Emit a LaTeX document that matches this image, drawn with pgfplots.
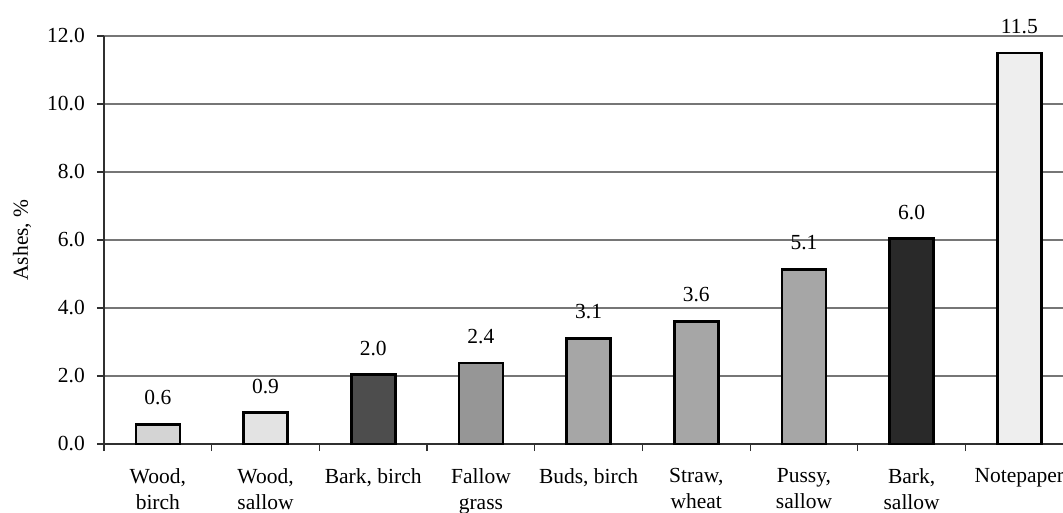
\documentclass[border=0pt]{standalone}
\usepackage{pgfplots}
\pgfplotsset{compat=1.18}
\usepackage{fontspec}
\setmainfont{Liberation Serif}
\definecolor{gridgray}{HTML}{767676}
\definecolor{axgray}{HTML}{303030}
\begin{document}
\fontsize{21bp}{26.5bp}\selectfont
\begin{tikzpicture}
\begin{axis}[
  scale only axis,
  width=959.5bp, height=408bp,
  at={(0,0)}, anchor=south west,
  xmin=-0.5, xmax=8.41,
  ymin=0, ymax=12,
  axis x line*=bottom, axis y line*=left,
  axis line style={axgray, line width=1.4bp, -},
  ytick={0,2,...,12},
  yticklabel style={/pgf/number format/fixed,/pgf/number format/fixed zerofill,/pgf/number format/precision=1},
  /pgf/number format/assume math mode=true,
  ymajorgrids, grid style={gridgray, line width=1.2bp},
  tick align=outside,
  major tick length=7bp,
  y tick style={draw=axgray, line width=1.2bp},
  xtick={0,...,8},
  xticklabels={{Wood,\\birch},{Wood,\\sallow},{Bark, birch},{Fallow\\grass},{Buds, birch},{Straw,\\wheat},{Pussy,\\sallow},{Bark,\\sallow},{Notepaper}},
  xticklabel style={align=center, anchor=north, yshift=-10bp, font=\fontsize{21.5bp}{26bp}\selectfont},
  x tick style={draw=none},
  minor xtick={-0.5,0.5,...,7.5},
  minor x tick style={draw=axgray, line width=1.2bp},
  minor tick length=7bp,
  yticklabel style={font=\fontsize{21.5bp}{26.5bp}\selectfont, xshift=-5bp},
  ylabel={Ashes, \%},
  ylabel style={font=\fontsize{21.5bp}{26.5bp}\selectfont, at={(axis description cs:0,0.5)}, anchor=base, inner sep=0pt, yshift=76bp},
  ybar, bar width=44bp, bar shift=0pt,
  every axis plot/.append style={draw=black, line width=2.6bp},
  nodes near coords,
  nodes near coords style={font=\fontsize{21.5bp}{26.5bp}\selectfont, /pgf/number format/fixed,/pgf/number format/fixed zerofill,/pgf/number format/precision=1, anchor=south, inner sep=0pt, yshift=18bp, /pgf/number format/assume math mode=true},
  clip=false,
]
\addplot[fill={rgb,255:red,212;green,212;blue,212}] coordinates {(0,0.58)};
\addplot[fill={rgb,255:red,227;green,227;blue,227}] coordinates {(1,0.92)};
\addplot[fill={rgb,255:red,77;green,77;blue,77}] coordinates {(2,2.04)};
\addplot[fill={rgb,255:red,150;green,150;blue,150}] coordinates {(3,2.38)};
\addplot[fill={rgb,255:red,166;green,166;blue,166}] coordinates {(4,3.10)};
\addplot[fill={rgb,255:red,166;green,166;blue,166}] coordinates {(5,3.60)};
\addplot[fill={rgb,255:red,166;green,166;blue,166}] coordinates {(6,5.14)};
\addplot[fill={rgb,255:red,41;green,41;blue,41}] coordinates {(7,6.04)};
\addplot[fill={rgb,255:red,238;green,238;blue,238}] coordinates {(8,11.5)};
\end{axis}
\pgfresetboundingbox
\useasboundingbox (-104bp,-69bp) rectangle (959bp,444bp);
\end{tikzpicture}
\end{document}
